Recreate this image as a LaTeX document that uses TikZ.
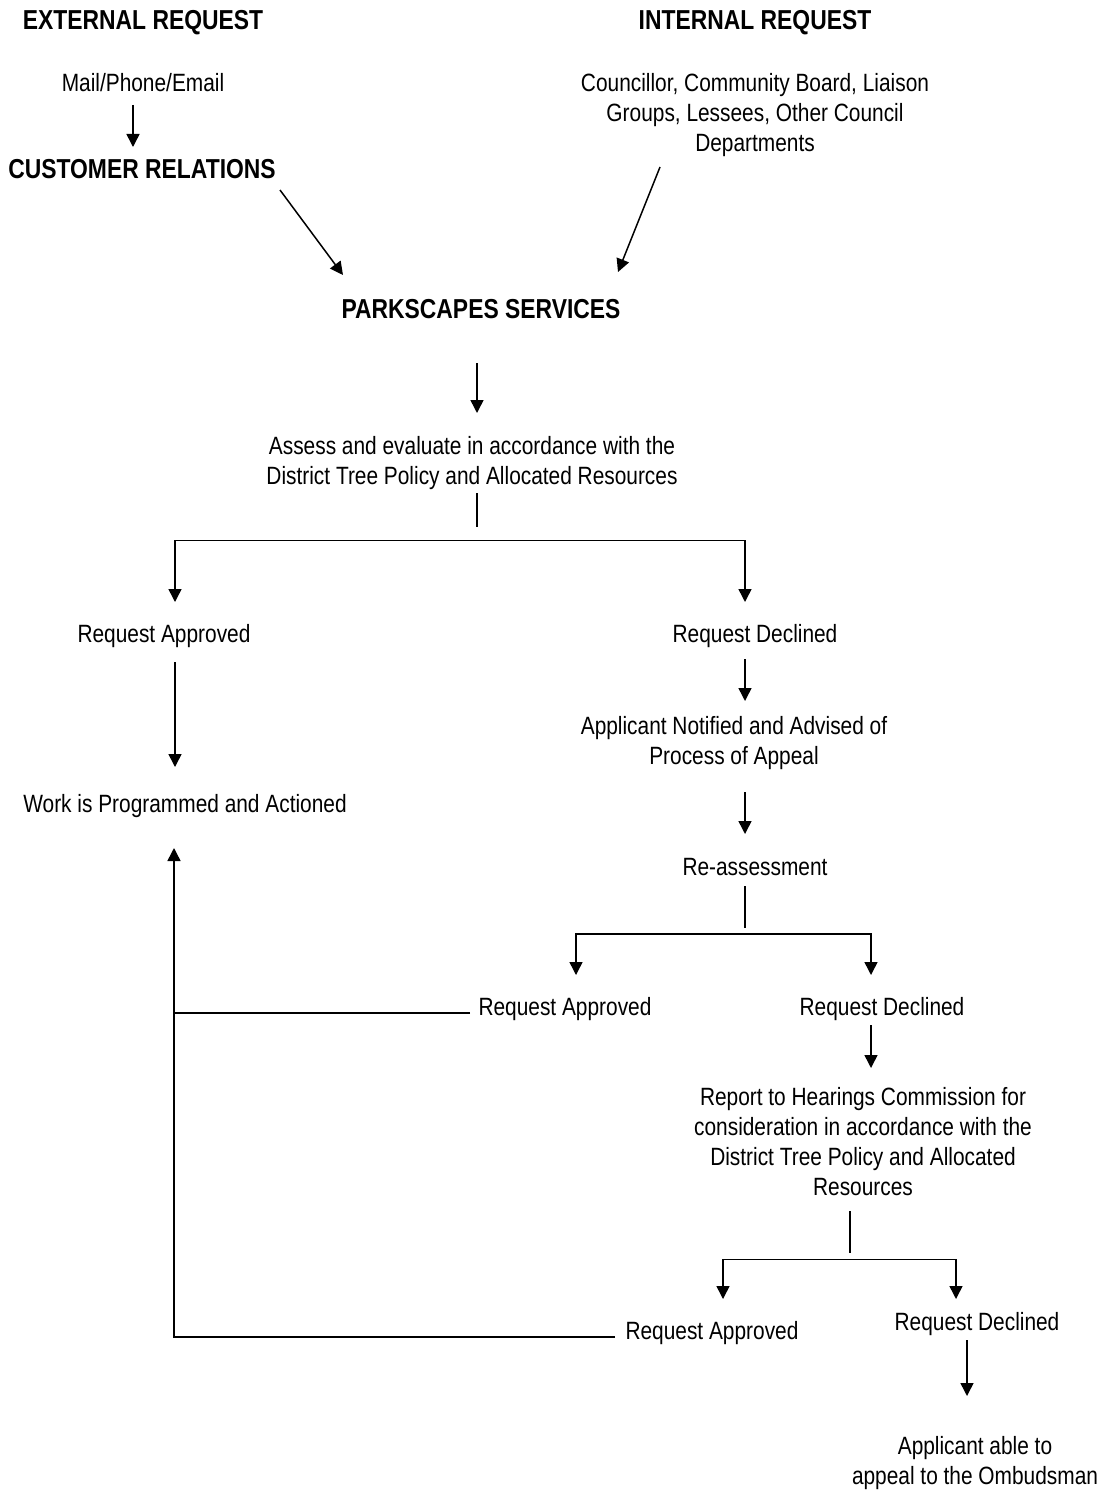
\documentclass[tikz,border=0pt]{standalone}
\usepackage{fontspec}
\setmainfont{Liberation Sans}[FakeStretch=0.835]
\usepackage{tikz}
\usetikzlibrary{arrows.meta,calc}
\tikzset{
  lbl/.style={font=\fontsize{12.5}{15}\selectfont,align=center,inner sep=0pt,outer sep=0pt},
  hd/.style={font=\fontsize{13.7}{16}\selectfont\bfseries,inner sep=0pt,outer sep=0pt},
  ln/.style={line width=0.75pt},
  fl/.style={line width=0.75pt,-{Triangle[length=6.5pt,width=6.5pt]}},
  fk/.style={line width=0.75pt,{Triangle[length=6.5pt,width=6.5pt]}-{Triangle[length=6.5pt,width=6.5pt]}}
}

\begin{document}
\begin{tikzpicture}[x=0.5pt,y=-0.5pt]
\useasboundingbox (0,0) rectangle (1111,1493);
\node[hd,anchor=base] (ext) at (143,30) {EXTERNAL REQUEST};
\node[hd,anchor=base] (intl) at (755,30) {INTERNAL REQUEST};
\node[lbl,anchor=base] (mail) at (143,91) {Mail/Phone/Email};
\node[hd,anchor=base] (custrel) at (142,178) {CUSTOMER RELATIONS};
\node[lbl,anchor=north] (council) at (755,73) {Councillor, Community Board, Liaison\\Groups, Lessees, Other Council\\Departments};
\node[hd,anchor=base] (parks) at (481,318) {PARKSCAPES SERVICES};
\node[lbl,anchor=north] (assess) at (472,436) {Assess and evaluate in accordance with the\\District Tree Policy and Allocated Resources};
\node[lbl,anchor=base] (appr1) at (164,642) {Request Approved};
\node[lbl,anchor=base] (decl1) at (755,642) {Request Declined};
\node[lbl,anchor=base] (work) at (185,812) {Work is Programmed and Actioned};
\node[lbl,anchor=north] (notify) at (734,716) {Applicant Notified and Advised of\\Process of Appeal};
\node[lbl,anchor=base] (reassess) at (755,875) {Re-assessment};
\node[lbl,anchor=base] (appr2) at (565,1015) {Request Approved};
\node[lbl,anchor=base] (decl2) at (882,1015) {Request Declined};
\node[lbl,anchor=north] (hearing) at (863,1087) {Report to Hearings Commission for\\consideration in accordance with the\\District Tree Policy and Allocated\\Resources};
\node[lbl,anchor=base] (appr3) at (712,1339) {Request Approved};
\node[lbl,anchor=base] (decl3) at (977,1330) {Request Declined};
\node[lbl,anchor=north] (ombud) at (975,1436) {Applicant able to\\appeal to the Ombudsman};

\draw[fl] ($(mail.base)+(-10,14)$) -- ($(custrel.base)+(-9,-31)$);
\draw[fl] ($(custrel.base)+(138,12)$) -- ($(parks.base)+(-138,-43)$);
\draw[fl] ($(council.north)+(-95,94)$) -- ($(parks.base)+(137,-46)$);
\draw[fl] ($(parks.base)+(-4,45)$) -- ($(assess.north)+(5,-23)$);
\draw[ln] ($(assess.south)+(5,4)$) -- ($(assess.south)+(5,38)$);
\draw[fk] ($(appr1.base)+(11,-40)$) |- ($(assess.south)+(5,51)$) -| ($(decl1.base)+(-10,-40)$);
\draw[fl] ($(appr1.base)+(11,20)$) -- ($(work.base)+(-10,-45)$);
\draw[fl] ($(decl1.base)+(-10,17)$) -- ($(notify.north)+(11,-15)$);
\draw[fl] ($(notify.south)+(11,23)$) -- ($(reassess.base)+(-10,-41)$);
\draw[ln] ($(reassess.base)+(-10,11)$) -- ($(reassess.base)+(-10,53)$);
\draw[fk] ($(appr2.base)+(11,-40)$) |- ($(reassess.base)+(-10,59)$) -| ($(decl2.base)+(-11,-40)$);
\draw[fl] ($(decl2.base)+(-11,10)$) -- ($(hearing.north)+(8,-19)$);
\draw[ln] ($(hearing.south)+(-13,16)$) -- ($(hearing.south)+(-13,58)$);
\draw[fk] ($(appr3.base)+(11,-40)$) |- ($(hearing.south)+(-13,64)$) -| ($(decl3.base)+(-21,-31)$);
\draw[fl] ($(decl3.base)+(-10,10)$) -- ($(ombud.north)+(-8,-40)$);
\draw[fl] ($(appr3.base)+(-97,-2)$) -| ($(work.base)+(-11,36)$);
\draw[ln] ($(appr2.base)+(-95,-2)$) -- ($(work.base)+(-11,201)$);
\end{tikzpicture}
\end{document}
